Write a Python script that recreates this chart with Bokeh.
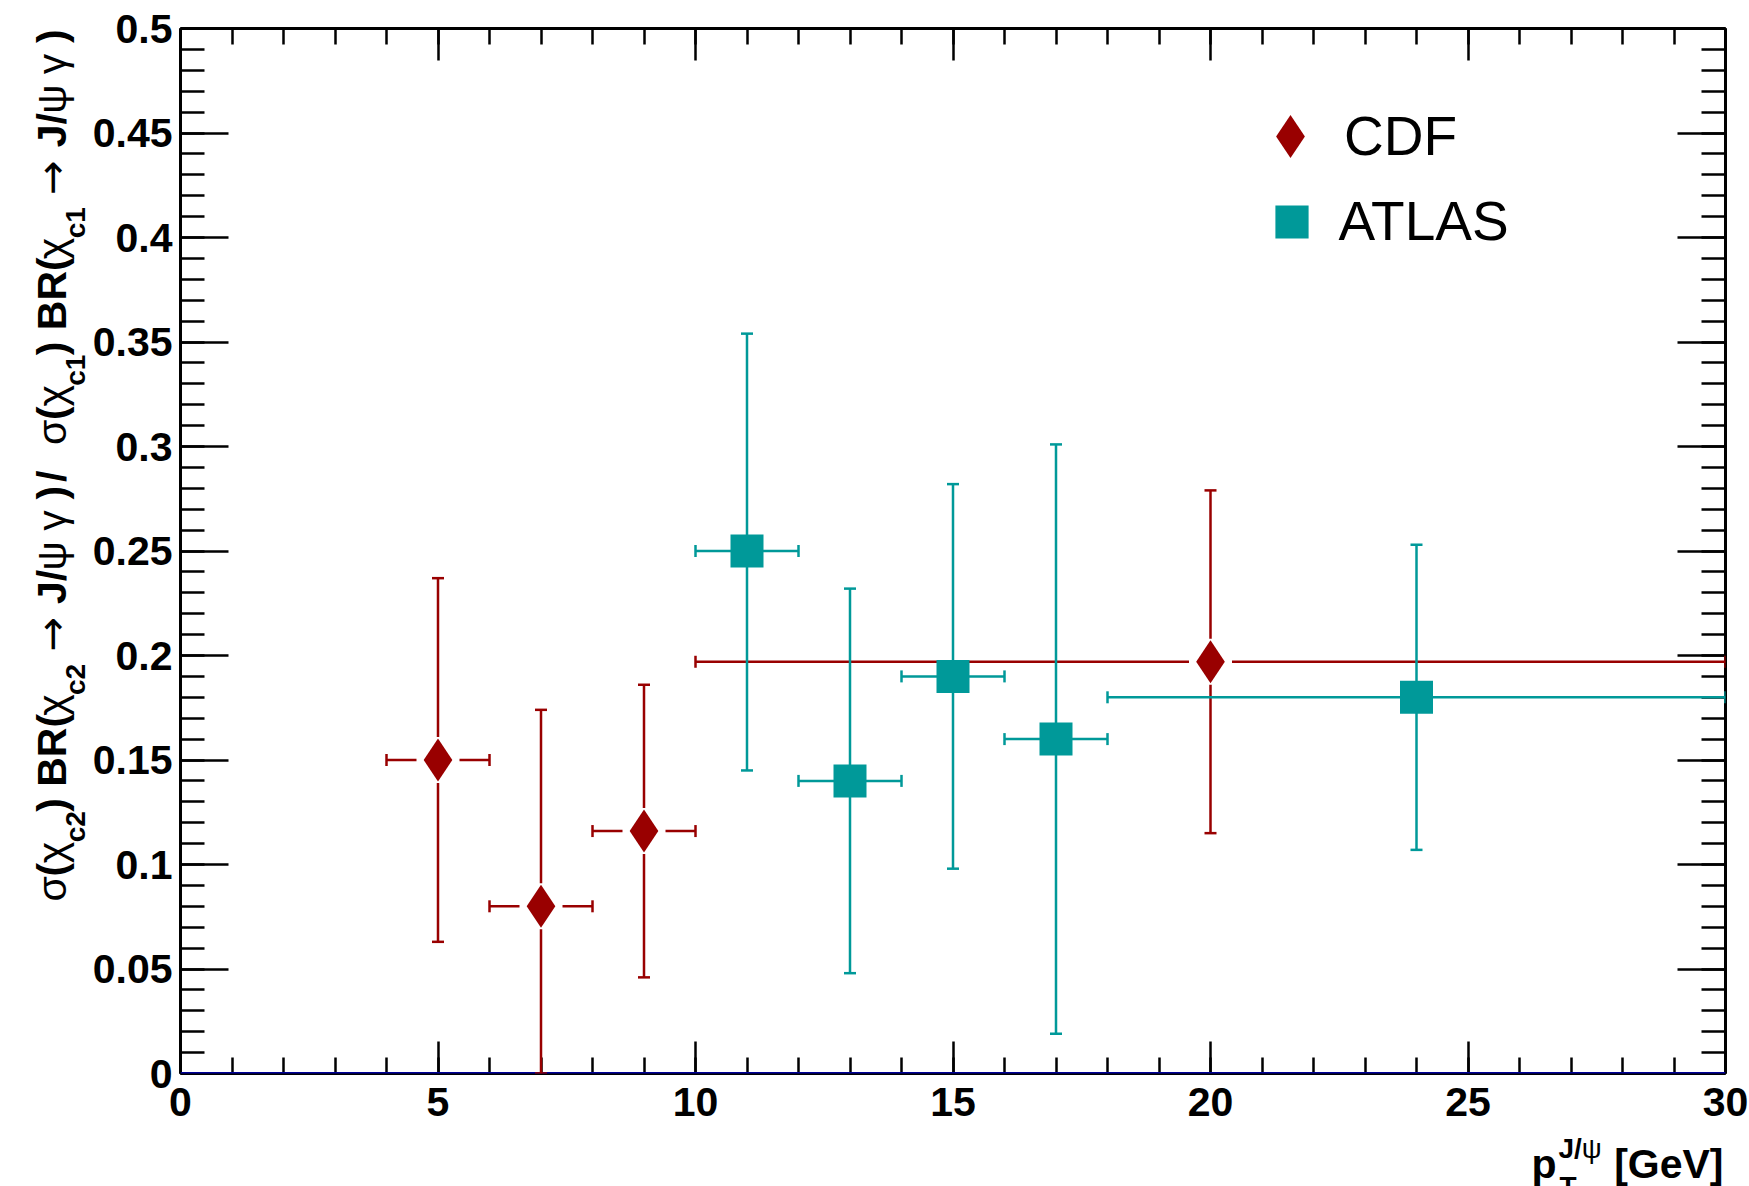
import math
from bokeh.plotting import figure
from bokeh.layouts import row, column
from bokeh.models import (Range1d, LinearAxis, FixedTicker, Whisker, TeeHead, Label,
                          Legend, LegendItem, Span, ColumnDataSource)
from bokeh.embed import file_html
from bokeh.resources import INLINE

# ---------------- data ----------------
cdf_pt = [5, 7, 9, 20]
cdf_val = [0.150, 0.080, 0.116, 0.197]
cdf_pt_lo = [4, 6, 8, 10]
cdf_pt_hi = [6, 8, 10, 30]
cdf_val_lo = [0.063, 0.000, 0.046, 0.115]
cdf_val_hi = [0.237, 0.174, 0.186, 0.279]

atlas_pt = [11, 13, 15, 17, 24]
atlas_val = [0.250, 0.140, 0.190, 0.160, 0.180]
atlas_pt_lo = [10, 12, 14, 16, 18]
atlas_pt_hi = [12, 14, 16, 18, 30]
atlas_val_lo = [0.145, 0.048, 0.098, 0.019, 0.107]
atlas_val_hi = [0.354, 0.232, 0.282, 0.301, 0.253]

x_ticks = [0, 5, 10, 15, 20, 25, 30]
x_tick_labels = ["0", "5", "10", "15", "20", "25", "30"]
y_ticks = [0, 0.05, 0.1, 0.15, 0.2, 0.25, 0.3, 0.35, 0.4, 0.45, 0.5]
y_tick_labels = ["0", "0.05", "0.1", "0.15", "0.2", "0.25", "0.3", "0.35", "0.4", "0.45", "0.5"]
series_names = ["CDF", "ATLAS"]

# ---------------- style ----------------
CDF_COL = "#990000"
ATL_COL = "#009999"
FONT = "Liberation Sans"
W, H = 1749, 1186
YT_W = 89            # strip holding the y title
XT_H = 60            # strip holding the x title
MAIN_W, MAIN_H = W - YT_W, H - XT_H
FRAME_BOTTOM = 1073
FRAME_TOP = 28

p = figure(width=MAIN_W, height=MAIN_H, x_range=Range1d(0, 30), y_range=Range1d(0, 0.5),
           x_axis_type=None, y_axis_type=None, output_backend="svg",
           toolbar_location=None, min_border_left=179 - YT_W, min_border_right=24,
           min_border_top=FRAME_TOP, min_border_bottom=MAIN_H - FRAME_BOTTOM)
p.outline_line_color = None
p.background_fill_color = "white"
p.border_fill_color = "white"

x_minor = list(range(0, 31))
y_minor = [round(i * 0.01, 2) for i in range(0, 51)]


def make_axis(ticks, minor, labels, tmaj, tmin, show, standoff):
    ax = LinearAxis(ticker=FixedTicker(ticks=ticks, minor_ticks=minor))
    ax.major_tick_in = tmaj
    ax.major_tick_out = 0
    ax.minor_tick_in = tmin
    ax.minor_tick_out = 0
    ax.major_tick_line_width = 2.5
    ax.minor_tick_line_width = 2.5
    ax.major_tick_line_color = "black"
    ax.minor_tick_line_color = "black"
    ax.axis_line_width = 3
    ax.axis_line_color = "black"
    if show:
        ax.major_label_overrides = {t: l for t, l in zip(ticks, labels)}
        ax.major_label_text_font = FONT
        ax.major_label_text_font_style = "bold"
        ax.major_label_text_font_size = "41px"
        ax.major_label_text_color = "black"
        ax.major_label_standoff = standoff
    else:
        ax.major_label_overrides = {t: "" for t in ticks}
        ax.major_label_text_font_size = "0px"
        ax.major_label_standoff = 0
    return ax


p.add_layout(make_axis(x_ticks, x_minor, x_tick_labels, 32, 16, True, 14), "below")
p.add_layout(make_axis(y_ticks, y_minor, y_tick_labels, 48, 24, True, 8), "left")
p.add_layout(make_axis(x_ticks, x_minor, x_tick_labels, 32, 16, False, 0), "above")
p.add_layout(make_axis(y_ticks, y_minor, y_tick_labels, 48, 24, False, 0), "right")

p.add_layout(Span(location=0, dimension="width", line_color="#000099", line_width=3))

src_cdf = ColumnDataSource(dict(x=cdf_pt, y=cdf_val, xlo=cdf_pt_lo, xhi=cdf_pt_hi,
                                ylo=cdf_val_lo, yhi=cdf_val_hi))
src_atl = ColumnDataSource(dict(x=atlas_pt, y=atlas_val, xlo=atlas_pt_lo, xhi=atlas_pt_hi,
                                ylo=atlas_val_lo, yhi=atlas_val_hi))


def add_errors(src, col):
    for dim, base, lo, hi in (("height", "x", "ylo", "yhi"), ("width", "y", "xlo", "xhi")):
        w = Whisker(source=src, base=base, lower=lo, upper=hi, dimension=dim,
                    line_color=col, line_width=2.5, level="annotation",
                    upper_head=TeeHead(size=12, line_color=col, line_width=2.5),
                    lower_head=TeeHead(size=12, line_color=col, line_width=2.5))
        p.add_layout(w)


add_errors(src_cdf, CDF_COL)
add_errors(src_atl, ATL_COL)

# white gap around diamonds (ROOT-style error bars stop short of the marker)
p.rect(x="x", y="y", width=43, height=46, width_units="screen", height_units="screen",
       fill_color="white", line_color=None, source=src_cdf, level="overlay")

r_cdf = p.scatter(x="x", y="y", source=src_cdf, marker="diamond", size=43,
                  fill_color=CDF_COL, line_color=None, level="overlay")
r_atl = p.scatter(x="x", y="y", source=src_atl, marker="square", size=33,
                  fill_color=ATL_COL, line_color=None, level="overlay")


def one_legend(label, rend, cx, cy, gsize, standoff):
    # legend marker size = 0.4 * glyph box; (cx, cy) is the glyph centre in page pixels
    lg = Legend(items=[LegendItem(label=label, renderers=[rend])],
                location=(cx - gsize / 2 - 179, FRAME_BOTTOM - (cy - gsize / 2) - gsize),
                glyph_width=gsize, glyph_height=gsize, label_standoff=standoff,
                padding=0, margin=0, spacing=0, border_line_color=None,
                background_fill_alpha=0, label_text_font=FONT,
                label_text_font_size="55px", label_text_color="black")
    p.add_layout(lg)


one_legend(series_names[0], r_cdf, 1289, 136, 108, 0)
one_legend(series_names[1], r_atl, 1290, 221, 83, 6)

# ---------------- axis titles built from text runs ----------------
BOLD = {" ": .278, "(": .333, ")": .333, "/": .278, "B": .722, "R": .722, "J": .556,
        "c": .556, "1": .556, "2": .556, "[": .333, "]": .333, "G": .778, "e": .556,
        "V": .667, "p": .611, "T": .611}
NORM = {" ": .278, "σ": .62, "χ": .52, "ψ": .71, "γ": .50, "→": 0.95}
Y_SCALE = 0.98
Y_BASE = 51          # page x of the title's baseline


def run_width(text, size, style):
    table = BOLD if style == "bold" else NORM
    return sum(table.get(ch, .55) for ch in text) * size


def strip_fig(w, h):
    f = figure(width=w, height=h, x_range=Range1d(0, 1), y_range=Range1d(0, 1),
               x_axis_type=None, y_axis_type=None, output_backend="svg",
               toolbar_location=None, min_border=0)
    f.outline_line_color = None
    f.background_fill_color = "white"
    f.border_fill_color = "white"
    return f


M, S, SUB = 41, 28, 24
half = lambda c: [("σ", M, "normal", 0), ("(", M, "bold", 0), ("χ", M, "normal", 0),
                  ("c" + c, S, "bold", SUB), (") BR(", M, "bold", 0), ("χ", M, "normal", 0),
                  ("c" + c, S, "bold", SUB), (" ", M, "bold", 0), ("→", M, "normal", 0),
                  (" ", M, "bold", 0), ("J/", M, "bold", 0), ("ψ", M, "normal", 0),
                  (" ", M, "bold", 0), ("γ", M, "normal", 0), (" ", M, "bold", 0),
                  (")", M, "bold", 0)]

# the strip's frame is aligned with the main frame (top 28, bottom 1073)
yfig = strip_fig(YT_W, MAIN_H)


def put_y(text, size, style, off, ypos):
    fnt = "DejaVu Sans" if text == "→" else FONT
    yfig.add_layout(Label(x=Y_BASE + off, y=ypos, x_units="screen", y_units="screen",
                          text=text, angle=math.pi / 2, text_font=fnt,
                          text_font_size=f"{size}px", text_font_style=style,
                          text_align="left", text_baseline="alphabetic",
                          text_color="black"))


def lay_runs(runs, start):
    cur = start
    for text, size, style, off in runs:
        if text.strip():
            put_y(text, size, style, off, cur + (2 if text == "→" else 0))
        cur += run_width(text, size, style) * Y_SCALE
    return cur


first, second = half("2"), half("1")
end1 = lay_runs(first, FRAME_BOTTOM - 901.0)
len2 = sum(run_width(t, s, st) for t, s, st, o in second) * Y_SCALE
start2 = (FRAME_BOTTOM - FRAME_TOP - 1) - len2
lay_runs(second, start2)
put_y("/", M, "bold", 0, end1 + 4)

xfig = strip_fig(W, XT_H)
x_runs = [("p", 41, "bold", 1531, 23, "left"),
          ("J/", 28, "bold", 1558, 38, "left"),
          ("ψ", 28, "normal", 1558 + run_width("J/", 28, "bold"), 38, "left"),
          ("T", 28, "bold", 1559, 0, "left"),
          ("[GeV]", 41, "bold", 1723, 23, "right")]
for text, size, style, xx, yy, al in x_runs:
    xfig.add_layout(Label(x=xx, y=yy, x_units="screen", y_units="screen", text=text,
                          text_font=FONT, text_font_size=f"{size}px", text_font_style=style,
                          text_align=al, text_baseline="alphabetic", text_color="black"))

layout = column(row(yfig, p, spacing=0), xfig, spacing=0)
open("out.html", "w").write(file_html(layout, INLINE))
